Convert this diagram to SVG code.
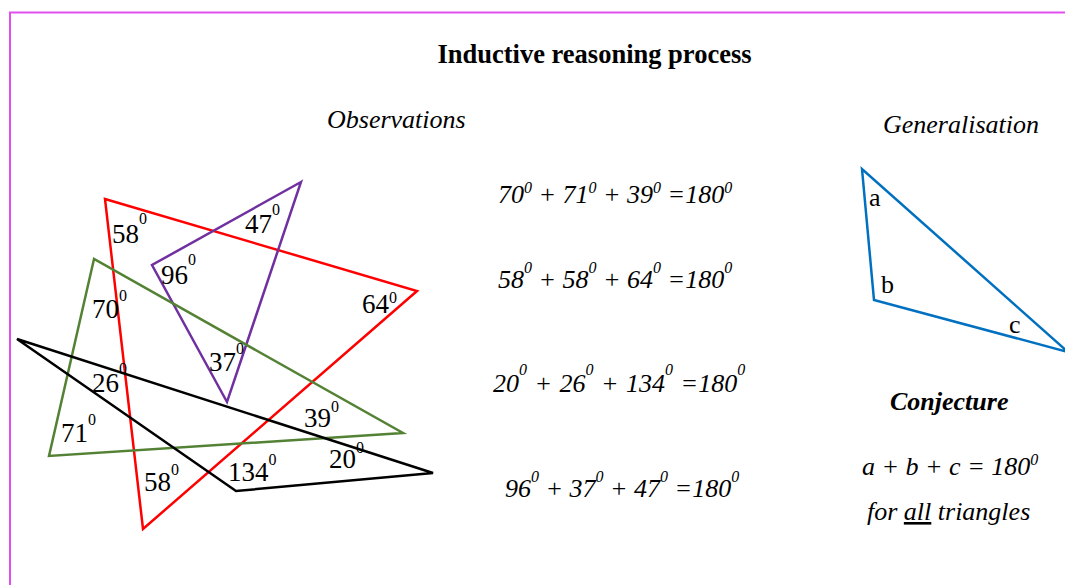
<svg xmlns="http://www.w3.org/2000/svg" width="1065" height="585" viewBox="0 0 1065 585">
<style>
.t{font-family:"Liberation Serif","Times New Roman",serif;fill:#000}
.n{font-size:27px}
.i{font-style:italic;font-size:26px}
.s{font-size:16px}
.tri{fill:none;stroke-linejoin:miter;stroke-width:2.5}
</style>
<rect width="1065" height="585" fill="#fff"/>
<g id="frame" fill="none" stroke="#E050EE" stroke-width="2">
<polyline points="10,585 10,12.5 1065,12.5"/>
</g>
<g id="title"><text class="t" x="594.5" y="63" font-size="26.5" font-weight="bold" text-anchor="middle">Inductive reasoning process</text></g>
<g id="obs-head"><text class="t i" x="327" y="128">Observations</text></g>
<g id="gen-head"><text class="t i" x="883" y="133">Generalisation</text></g>

<g id="triangles">
<polygon id="red" class="tri" stroke="#FF0000" points="105,199 417,291 143,529"/>
<polygon id="purple" class="tri" stroke="#7030A0" points="301,182 152,265 227,402"/>
<polygon id="green" class="tri" stroke="#548235" points="94,259 49,456 403,433"/>
<polygon id="black" class="tri" stroke="#000" stroke-width="3" points="17,339 433,473 236,491"/>
<polygon id="blue" class="tri" stroke="#0070C0" stroke-width="4" points="862,169 874,300 1068,352"/>
</g>

<g id="angle-labels" class="t n">
<text x="112" y="243">58<tspan class="s" dy="-19">0</tspan></text>
<text x="245" y="233">47<tspan class="s" dy="-18">0</tspan></text>
<text x="161" y="284">96<tspan class="s" dy="-19">0</tspan></text>
<text x="92" y="318">70<tspan class="s" dy="-17">0</tspan></text>
<text x="362" y="313">64<tspan class="s" dy="-10">0</tspan></text>
<text x="209" y="371">37<tspan class="s" dy="-17">0</tspan></text>
<text x="92" y="392">26<tspan class="s" dy="-18">0</tspan></text>
<text x="61" y="442">71<tspan class="s" dy="-17">0</tspan></text>
<text x="304" y="427">39<tspan class="s" dy="-15">0</tspan></text>
<text x="329" y="468">20<tspan class="s" dy="-15">0</tspan></text>
<text x="228" y="481">134<tspan class="s" dy="-16">0</tspan></text>
<text x="144" y="491">58<tspan class="s" dy="-16">0</tspan></text>
</g>

<g id="gen-labels" class="t" font-size="26">
<text x="869" y="206">a</text>
<text x="881" y="293">b</text>
<text x="1009" y="333">c</text>
</g>

<g id="equations" class="t i">
<text x="498" y="203">70<tspan class="s" dy="-10">0</tspan><tspan dy="10"> + 71</tspan><tspan class="s" dy="-10">0</tspan><tspan dy="10"> + 39</tspan><tspan class="s" dy="-10">0</tspan><tspan dy="10"> =180</tspan><tspan class="s" dy="-10">0</tspan></text>
<text x="498" y="288">58<tspan class="s" dy="-15">0</tspan><tspan dy="15"> + 58</tspan><tspan class="s" dy="-15">0</tspan><tspan dy="15"> + 64</tspan><tspan class="s" dy="-15">0</tspan><tspan dy="15"> =180</tspan><tspan class="s" dy="-15">0</tspan></text>
<text x="493" y="392" word-spacing="1">20<tspan class="s" dy="-17">0</tspan><tspan dy="17"> + 26</tspan><tspan class="s" dy="-17">0</tspan><tspan dy="17"> + 134</tspan><tspan class="s" dy="-17">0</tspan><tspan dy="17"> =180</tspan><tspan class="s" dy="-17">0</tspan></text>
<text x="505" y="497">96<tspan class="s" dy="-15">0</tspan><tspan dy="15"> + 37</tspan><tspan class="s" dy="-15">0</tspan><tspan dy="15"> + 47</tspan><tspan class="s" dy="-15">0</tspan><tspan dy="15"> =180</tspan><tspan class="s" dy="-15">0</tspan></text>
</g>

<g id="conjecture" class="t">
<text x="890" y="410" font-size="26" font-weight="bold" font-style="italic">Conjecture</text>
<text class="i" x="862" y="475">a + b + c = 180<tspan class="s" dy="-10">0</tspan></text>
<text class="i" x="867" y="520">for <tspan text-decoration="underline">all</tspan> triangles</text>
</g>
</svg>
